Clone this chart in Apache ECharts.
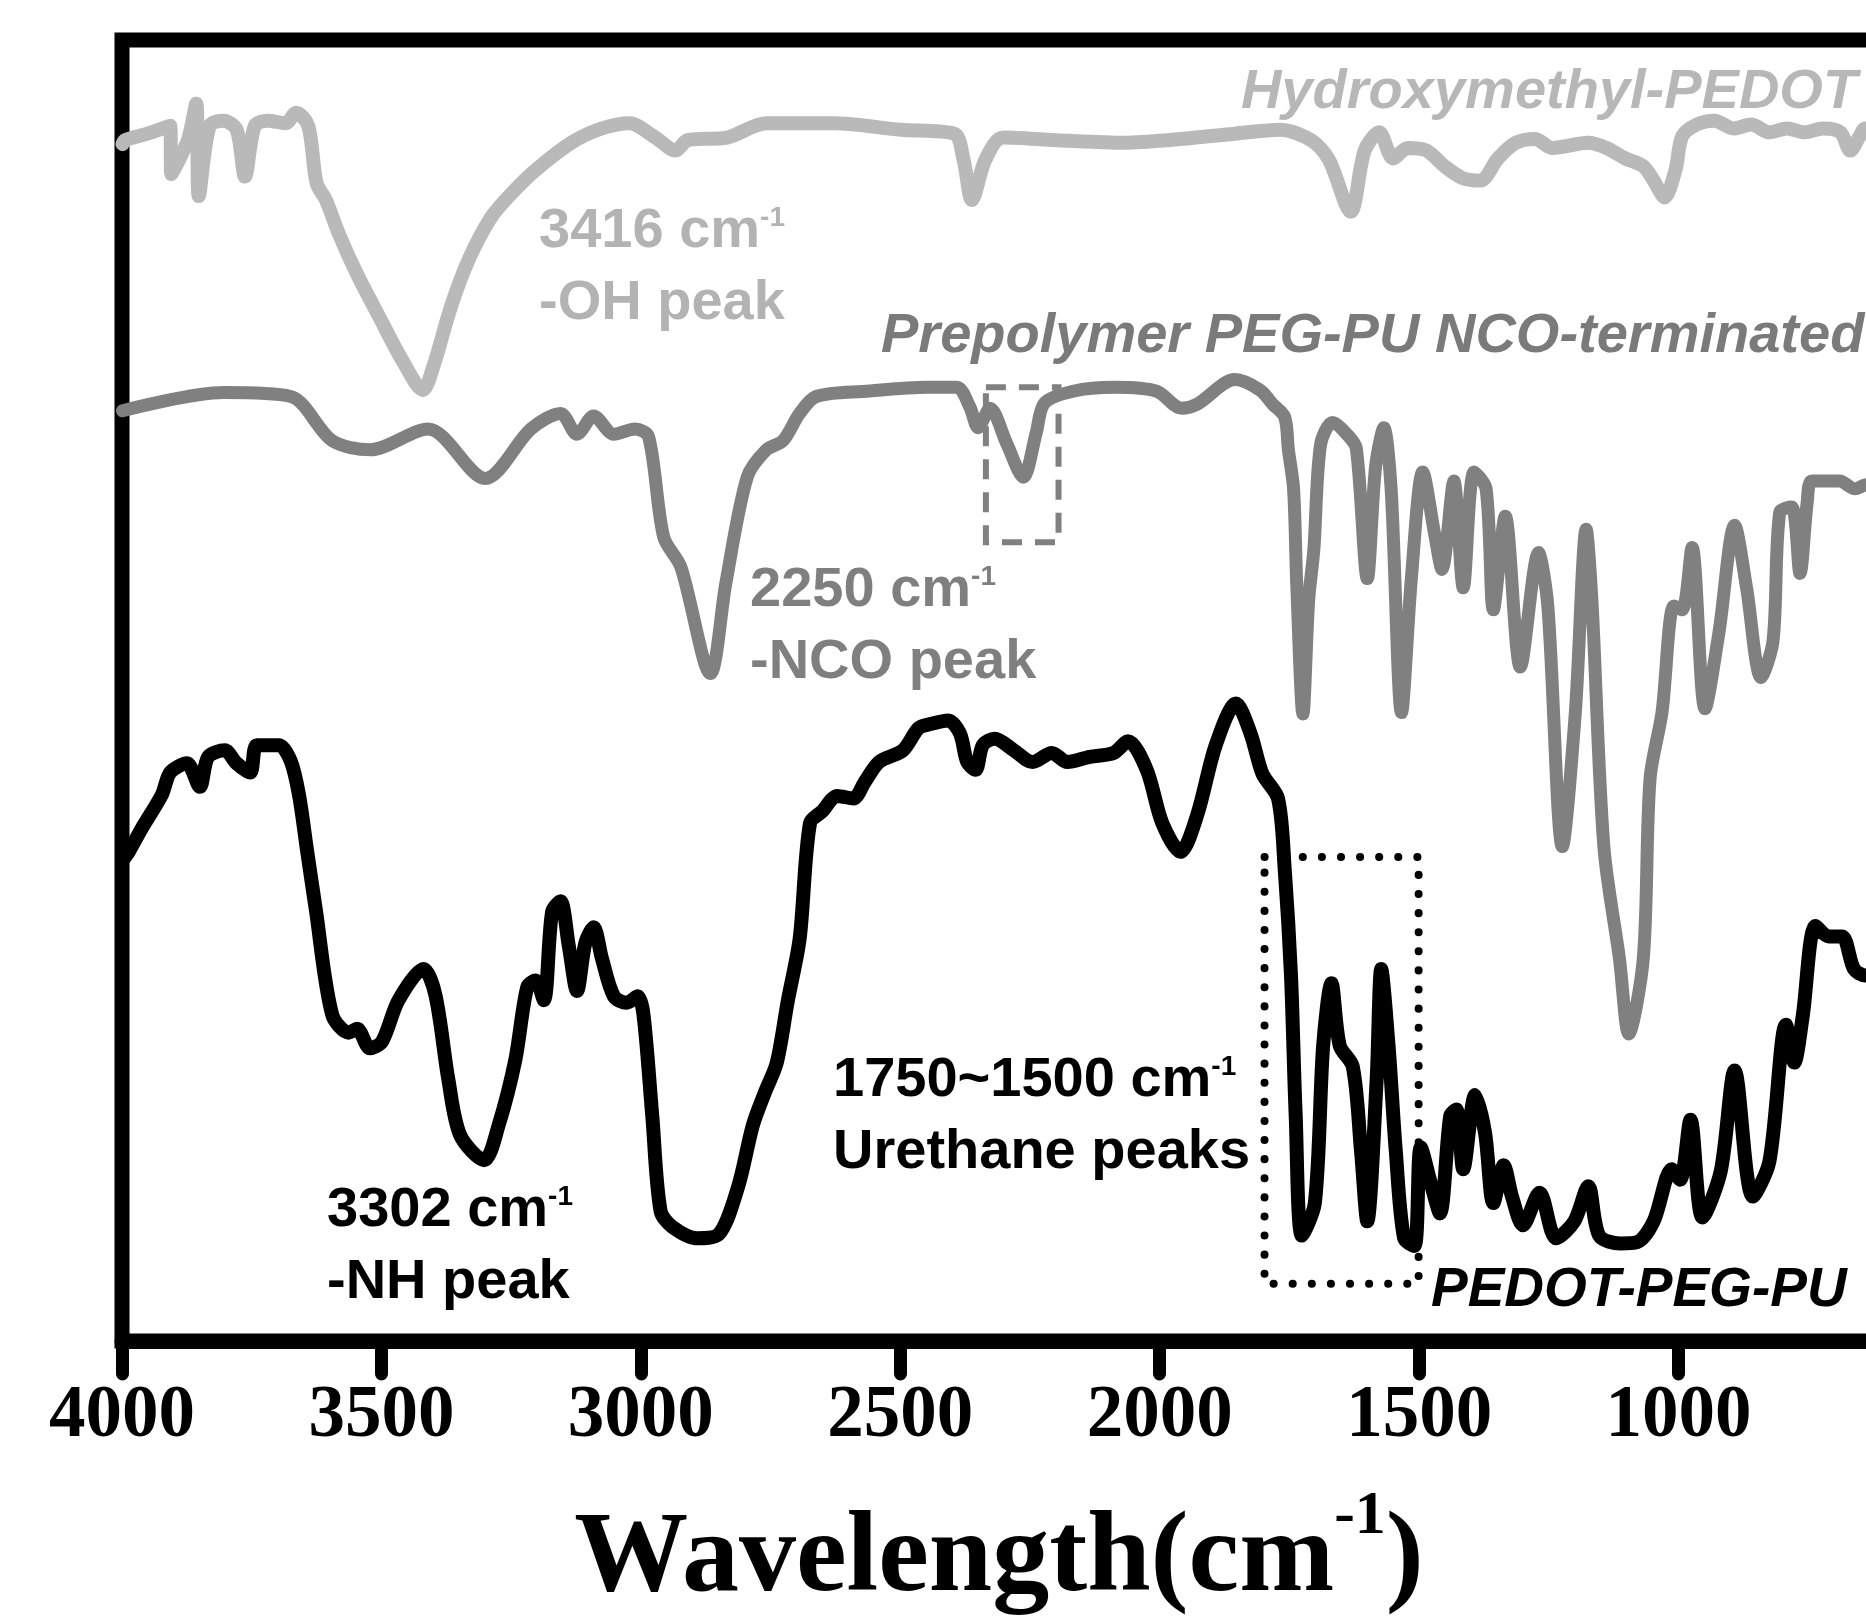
<!DOCTYPE html>
<html>
<head>
<meta charset="utf-8">
<title>FTIR</title>
<script src="https://cdn.jsdelivr.net/npm/echarts/dist/echarts.min.js"></script>
<style>
    html, body { margin: 0; padding: 0; background: #fff; overflow: hidden; }
    #ftir { width: 1866px; height: 1624px; }
</style>
</head>
<body>
<div id="ftir"></div>
<script>
// wavenumber (cm-1) / offset transmittance
var hydroxyWn = [3999, 3994, 3951, 3907, 3905, 3873, 3857, 3852, 3831, 3804, 3779, 3763, 3744, 3719, 3685, 3664, 3641, 3625, 3607, 3582,
    3547, 3504, 3460, 3420, 3400, 3366, 3332, 3288, 3247, 3203, 3134, 3075, 3022, 2972, 2933, 2910, 2834, 2758, 2628, 2499,
    2396, 2378, 2362, 2336, 2302, 2199, 2068, 1983, 1855, 1768, 1708, 1674, 1632, 1605, 1577, 1550, 1522, 1486, 1451, 1417,
    1382, 1348, 1314, 1277, 1243, 1174, 1139, 1103, 1068, 1048, 1027, 1006, 993, 965, 931, 894, 860, 825, 791, 757,
    722, 688, 669, 651, 640, 600, 500];
var hydroxyT = [92.0, 92.3, 92.8, 93.4, 89.7, 92.3, 95.1, 88.0, 93.4, 93.8, 93.1, 89.5, 93.4, 93.8, 93.6, 94.4, 93.4, 89.0, 87.7, 85.1,
    82.0, 78.7, 75.4, 73.1, 74.9, 79.5, 83.1, 86.4, 88.3, 90.0, 92.1, 93.2, 93.6, 92.5, 91.5, 92.3, 92.5, 93.6, 93.6, 93.1,
    92.8, 90.8, 87.7, 90.8, 92.5, 92.3, 92.1, 92.3, 92.8, 93.1, 92.3, 90.8, 86.8, 91.5, 92.9, 90.9, 91.7, 91.5, 90.3, 89.4,
    89.2, 90.9, 92.1, 92.4, 91.7, 92.1, 91.7, 90.9, 90.3, 89.2, 87.9, 90.0, 92.6, 93.5, 93.8, 93.2, 93.5, 92.9, 93.2, 92.9,
    93.2, 92.9, 91.5, 92.6, 93.2, 93.0, 92.8];

var prepolyWn = [3999, 3804, 3675, 3595, 3522, 3410, 3300, 3212, 3155, 3123, 3091, 3052, 3011, 2985, 2956, 2923, 2866, 2836, 2795, 2758,
    2726, 2694, 2662, 2566, 2446, 2391, 2366, 2350, 2327, 2295, 2263, 2238, 2222, 2167, 2087, 2006, 1958, 1928, 1855, 1807,
    1782, 1759, 1752, 1742, 1736, 1724, 1713, 1703, 1690, 1667, 1637, 1621, 1600, 1584, 1568, 1554, 1534, 1515, 1493, 1470,
    1456, 1433, 1415, 1394, 1371, 1357, 1334, 1305, 1270, 1252, 1224, 1199, 1178, 1167, 1144, 1114, 1096, 1068, 1055, 1032,
    1009, 993, 974, 949, 922, 892, 869, 841, 818, 805, 782, 766, 752, 743, 690, 660, 640, 550];
var prepolyT = [71.5, 72.9, 72.6, 69.2, 68.5, 70.1, 66.3, 70.1, 71.3, 69.7, 71.1, 69.7, 70.1, 69.5, 61.8, 59.5, 51.3, 58.3, 66.4, 68.5,
    69.2, 71.3, 72.6, 73.0, 73.3, 73.3, 71.8, 70.2, 71.7, 69.0, 66.4, 69.8, 72.1, 73.0, 73.3, 73.0, 71.7, 72.0, 73.9, 73.1,
    72.0, 71.0, 68.5, 65.5, 58.3, 48.2, 56.9, 60.8, 68.9, 70.6, 69.6, 68.6, 58.6, 67.2, 70.2, 65.5, 48.3, 58.6, 66.8, 62.0,
    59.3, 66.1, 57.9, 66.8, 65.5, 56.2, 63.4, 51.8, 60.6, 56.5, 38.0, 48.3, 62.4, 56.9, 38.0, 29.4, 23.6, 29.4, 43.2, 48.3,
    56.5, 56.2, 61.0, 48.6, 54.5, 62.7, 57.9, 51.0, 53.8, 63.7, 64.1, 59.0, 64.5, 66.1, 66.1, 65.5, 65.8, 66.0];

var pedotWn = [3998, 3987, 3962, 3923, 3907, 3875, 3850, 3834, 3802, 3779, 3753, 3740, 3698, 3675, 3659, 3643, 3627, 3595, 3563, 3547,
    3522, 3499, 3467, 3419, 3396, 3371, 3348, 3302, 3274, 3242, 3219, 3203, 3187, 3171, 3155, 3139, 3123, 3107, 3091, 3075,
    3052, 3027, 3006, 2995, 2978, 2962, 2940, 2891, 2850, 2813, 2784, 2761, 2738, 2717, 2694, 2674, 2651, 2621, 2591, 2568,
    2541, 2495, 2465, 2444, 2408, 2385, 2371, 2355, 2341, 2318, 2281, 2245, 2208, 2178, 2135, 2089, 2061, 2025, 1995, 1960,
    1928, 1892, 1853, 1825, 1802, 1772, 1759, 1747, 1738, 1726, 1701, 1685, 1669, 1653, 1628, 1612, 1600, 1582, 1573, 1559,
    1545, 1529, 1509, 1497, 1476, 1460, 1440, 1428, 1415, 1392, 1373, 1357, 1337, 1321, 1300, 1268, 1236, 1201, 1174, 1153,
    1112, 1080, 1048, 1013, 997, 977, 954, 919, 892, 857, 825, 793, 777, 761, 736, 711, 685, 662, 640, 600, 500];
var pedotT = [37.0, 37.6, 39.4, 42.0, 43.7, 44.4, 42.6, 44.9, 45.4, 44.4, 43.7, 45.8, 45.8, 44.6, 42.0, 37.6, 33.3, 25.1, 23.7, 24.0,
    22.5, 23.0, 26.2, 28.6, 26.6, 20.1, 15.8, 13.9, 16.6, 21.6, 27.2, 27.7, 26.2, 33.0, 33.8, 30.4, 26.9, 30.6, 31.8, 29.4,
    26.5, 26.0, 26.5, 25.1, 17.3, 10.0, 8.8, 7.9, 8.2, 11.8, 16.6, 19.1, 21.4, 26.1, 30.9, 39.8, 40.7, 41.9, 41.7, 43.0,
    44.5, 45.4, 47.1, 47.4, 47.7, 46.7, 44.5, 43.9, 45.8, 46.3, 45.4, 44.5, 45.2, 44.5, 44.9, 45.2, 46.1, 43.9, 39.8, 37.6,
    40.4, 45.8, 49.0, 46.7, 43.6, 41.7, 36.2, 28.1, 17.4, 8.1, 10.6, 22.7, 27.5, 22.7, 21.1, 14.6, 9.2, 20.0, 28.6, 22.7,
    14.6, 7.9, 7.3, 14.9, 11.9, 9.8, 17.3, 17.8, 13.2, 18.9, 16.0, 10.6, 13.5, 11.1, 8.9, 11.4, 7.9, 9.2, 11.9, 8.1,
    7.5, 7.6, 9.2, 13.2, 12.4, 17.0, 9.5, 13.0, 20.8, 11.1, 13.8, 24.3, 21.4, 24.9, 31.9, 31.1, 31.1, 28.6, 28.1, 28.5, 29.0];

// boxes drawn round the NCO and urethane bands: [wn from, wn to, T top, T bottom]
var ncoBox = [2335, 2195, 73.3, 61.4];
var urethaneBox = [1798, 1501, 37.2, 4.4];

var xTicks = [4000, 3500, 3000, 2500, 2000, 1500, 1000, 500];

function zip(xs, ys) {
    var res = [];
    for (var i = 0; i < Math.min(xs.length, ys.length); i++) {
        res.push([xs[i], ys[i]]);
    }
    return res;
}

var sans = '"Liberation Sans", Arial, sans-serif';
var serif = '"Liberation Serif", "Times New Roman", serif';

// two-line peak notes with a "-1" superscript
function note(x, y, line1, line2, color) {
    var rich = {
        n: { fontFamily: sans, fontSize: 56, fontWeight: 'bold', fill: color, lineHeight: 56 },
        s: { fontFamily: sans, fontSize: 28, fontWeight: 'bold', fill: color, lineHeight: 16, verticalAlign: 'top' }
    };
    return [
        { type: 'text', x: x, y: y, z: 100, style: { text: '{n|' + line1 + '}{s|-1}', rich: rich, align: 'left', verticalAlign: 'middle' } },
        { type: 'text', x: x, y: y + 72, z: 100, style: { text: '{n|' + line2 + '}', rich: rich, align: 'left', verticalAlign: 'middle' } }
    ];
}

function tag(x, y, text, color, size) {
    return {
        type: 'text', x: x, y: y, z: 100,
        style: {
            text: text, fill: color, fontFamily: sans, fontSize: size,
            fontWeight: 'bold', fontStyle: 'italic', align: 'left', verticalAlign: 'middle'
        }
    };
}

var myChart = echarts.init(document.getElementById('ftir'));

var graphics = []
    .concat(note(539, 232, '3416 cm', '-OH peak', '#b3b3b3'))
    .concat(note(750, 591, '2250 cm', '-NCO peak', '#7f7f7f'))
    .concat(note(833, 1081, '1750~1500 cm', 'Urethane peaks', '#000'))
    .concat(note(327, 1211, '3302 cm', '-NH peak', '#000'));
graphics.push(tag(1241, 93, 'Hydroxymethyl-PEDOT', '#b7b7b7', 56));
graphics.push(tag(881, 337, 'Prepolymer PEG-PU NCO-terminated', '#7a7a7a', 56));
graphics.push(tag(1431, 1291, 'PEDOT-PEG-PU', '#000', 55));

function boxArea(b) {
    return [[{ coord: [b[0], b[2]] }, { coord: [b[1], b[3]] }]];
}

option = {
    backgroundColor: '#fff',
    animation: false,
    // plot runs past the right edge: the figure is cropped there
    grid: {
        show: true,
        left: 122,
        top: 40,
        width: 1816,
        height: 1301,
        outerBoundsMode: 'none',
        containLabel: false,
        borderColor: '#000',
        borderWidth: 15
    },
    xAxis: {
        type: 'value',
        inverse: true,
        min: xTicks[xTicks.length - 1],
        max: xTicks[0],
        interval: 500,
        name: '{a|Wavelength(cm}{b|-1}{a|)}',
        nameLocation: 'middle',
        nameGap: 145,
        nameTextStyle: {
            padding: [0, 62, 0, 0],
            rich: {
                a: { fontFamily: serif, fontSize: 114, fontWeight: 'bold', color: '#000', lineHeight: 150 },
                b: { fontFamily: serif, fontSize: 62, fontWeight: 'bold', color: '#000', lineHeight: 62, verticalAlign: 'top' }
            }
        },
        axisLine: { lineStyle: { color: '#000', width: 15 } },
        axisTick: { length: 33, lineStyle: { color: '#000', width: 13, cap: 'round' } },
        axisLabel: {
            margin: 40, fontFamily: serif, fontSize: 73, fontWeight: 'bold', color: '#000',
            formatter: function (v) { return String(v); }
        },
        splitLine: { show: false }
    },
    yAxis: {
        type: 'value',
        min: 0,
        max: 100,
        show: false
    },
    series: [
        {
            name: 'Hydroxymethyl-PEDOT',
            type: 'line',
            data: zip(hydroxyWn, hydroxyT),
            showSymbol: false,
            smooth: 0.3,
            lineStyle: { color: '#b9b9b9', width: 14, join: 'round', cap: 'round' }
        },
        {
            name: 'Prepolymer PEG-PU NCO-terminated',
            type: 'line',
            data: zip(prepolyWn, prepolyT),
            showSymbol: false,
            smooth: 0.3,
            lineStyle: { color: '#808080', width: 13, join: 'round', cap: 'round' },
            markArea: {
                silent: true,
                label: { show: false },
                itemStyle: { color: 'rgba(0,0,0,0)', borderColor: '#808080', borderWidth: 6, borderType: [20, 13] },
                data: boxArea(ncoBox)
            }
        },
        {
            name: 'PEDOT-PEG-PU',
            type: 'line',
            data: zip(pedotWn, pedotT),
            showSymbol: false,
            smooth: 0.3,
            lineStyle: { color: '#000', width: 14, join: 'round', cap: 'round' },
            markArea: {
                silent: true,
                label: { show: false },
                itemStyle: { color: 'rgba(0,0,0,0)', borderColor: '#000', borderWidth: 8, borderType: [0.1, 19], borderCap: 'round' },
                data: boxArea(urethaneBox)
            }
        }
    ],
    graphic: graphics
};
myChart.setOption(option);
window.addEventListener("resize", function () {
    myChart.resize();
});
</script>
</body>
</html>
